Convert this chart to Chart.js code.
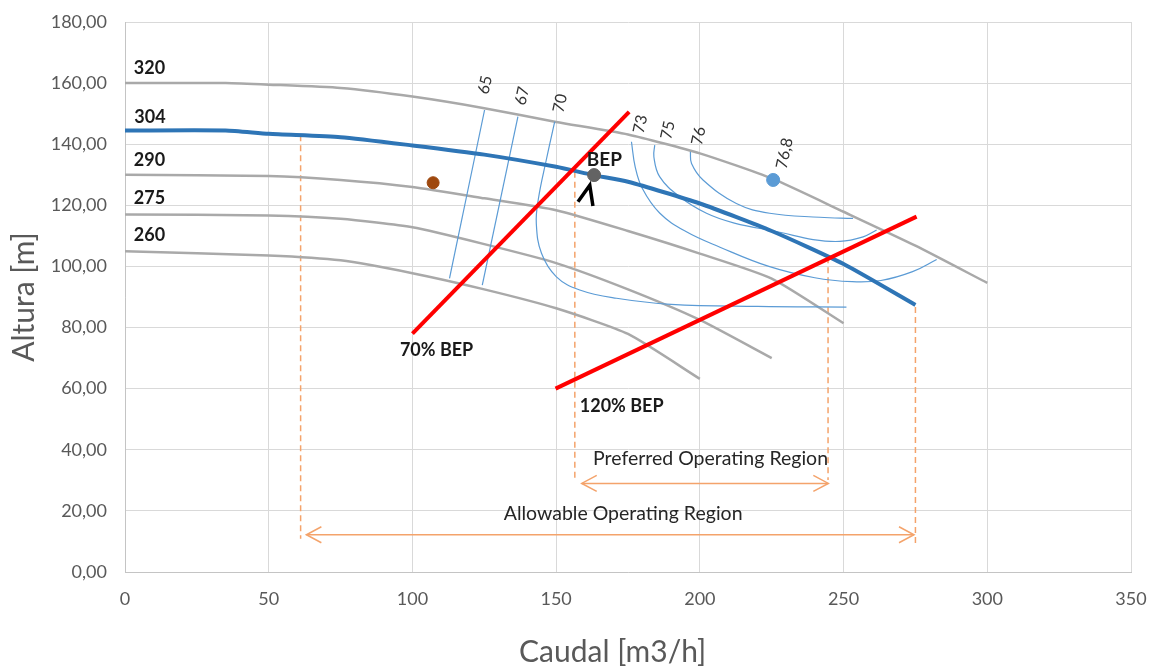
<!DOCTYPE html>
<html>
<head>
<meta charset="utf-8">
<title>Curvas da bomba</title>
<script src="https://cdn.jsdelivr.net/npm/chart.js@4.4.1/dist/chart.umd.min.js"></script>
<style>
  html, body { margin: 0; padding: 0; background: #fff; }
  #wrap { width: 1151px; height: 667px; }
</style>
</head>
<body>
<div id="wrap"><canvas id="graficoBomba"></canvas></div>
<script>
// curvas H-Q por diametro de rotor
const caudal320 = [0, 35, 50, 75, 100, 125, 150, 175, 200, 225, 250, 275, 300];
const altura320 = [160, 160, 159.5, 158.4, 155.6, 151.8, 147.3, 143.2, 137, 128.8, 117.9, 106.8, 94.6];

const caudal304 = [0, 35, 50, 75, 100, 125, 150, 163, 175, 200, 225, 250, 275];
const altura304 = [144.5, 144.5, 143.4, 142.3, 139.6, 136.6, 132.6, 129.9, 127.7, 120.6, 111.6, 100.8, 87.4];

const caudal290 = [0, 50, 75, 100, 125, 150, 175, 200, 225, 250];
const altura290 = [130, 129.6, 128.3, 126, 122.3, 118.4, 111.6, 104.2, 96, 81.4];

const caudal275 = [0, 50, 75, 100, 125, 150, 175, 200, 225];
const altura275 = [117, 116.7, 115.6, 112.8, 107.3, 101.1, 92.5, 82.5, 70];

const caudal260 = [0, 50, 75, 100, 125, 150, 175, 200];
const altura260 = [105, 103.6, 102, 97.8, 92.5, 86.3, 77.9, 63.2];

// curvas de rendimento
const caudalEf65 = [125.1, 112.9];
const alturaEf65 = [151.2, 96.1];
const caudalEf67 = [136.7, 124.3];
const alturaEf67 = [149, 93.9];
const caudalEf70 = [149.5, 146.6, 143.8, 143.1, 144.9, 150.1, 158.2, 171, 190, 220, 251];
const alturaEf70 = [147.4, 135, 122, 114, 104.3, 96.6, 92.3, 89.6, 87.6, 86.9, 86.7];
const caudalEf73 = [176.2, 177.5, 180, 186, 195, 207, 224, 240, 253, 263, 274, 282.4];
const alturaEf73 = [140.8, 132.6, 125.5, 117.5, 111.5, 106.3, 100, 96.3, 95, 95.4, 98.3, 102.3];
const caudalEf75 = [184.3, 184, 186, 193, 202.3, 212, 227.8, 239.4, 248.7, 256.8, 261.5];
const alturaEf75 = [139.7, 135.9, 129.4, 122.8, 117.4, 114.2, 111.2, 108.8, 108.2, 109.7, 111.9];
const caudalEf76 = [196.7, 197.1, 201.1, 212.7, 224.3, 241.7, 253.3];
const alturaEf76 = [137.5, 133.7, 128.3, 120.6, 117.4, 116.1, 115.7];

// linhas 70% e 120% do BEP
const caudal70BEP = [100, 175.4];
const altura70BEP = [78, 150.6];
const caudal120BEP = [149.8, 275.4];
const altura120BEP = [60, 116.3];

// pontos
const pontoBEP = [163.2, 129.9];
const pontoMarrom = [107.2, 127.4];
const ponto768 = [225.5, 128.3];
const caudalMarca = [157.6, 161.7, 162.8];
const alturaMarca = [121.2, 126.6, 119.8];

// limites das regioes de operacao
const caudalLimites = [61.1, 156.5, 244.6, 275];
const alturaLimitesTopo = [142.9, 131, 103, 86.7];
const alturaLimitesBase = [10.9, 30.1, 30.1, 9.4];
const regiaoPreferida = [158.9, 244.7, 29];
const regiaoPermitida = [63.1, 274.5, 12.2];

const ticksAltura = [0, 20, 40, 60, 80, 100, 120, 140, 160, 180];

const textosGrafico = [
  { texto: "320", x: 8.5, y: 164.9, tipo: "curva" },
  { texto: "304", x: 8.7, y: 149, tipo: "curva" },
  { texto: "290", x: 8.5, y: 134.8, tipo: "curva" },
  { texto: "275", x: 8.5, y: 122.2, tipo: "curva" },
  { texto: "260", x: 8.5, y: 110.1, tipo: "curva" },
  { texto: "70% BEP", x: 108.4, y: 72.6, tipo: "curva" },
  { texto: "120% BEP", x: 172.8, y: 54.3, tipo: "curva" },
  { texto: "BEP", x: 166.8, y: 134.8, tipo: "bep" },
  { texto: "65", x: 125.3, y: 159.4, tipo: "rend" },
  { texto: "67", x: 138.2, y: 155.8, tipo: "rend" },
  { texto: "70", x: 151.4, y: 153.4, tipo: "rend" },
  { texto: "73", x: 179.3, y: 146.6, tipo: "rend" },
  { texto: "75", x: 188.9, y: 144.6, tipo: "rend" },
  { texto: "76", x: 199.6, y: 142.7, tipo: "rend" },
  { texto: "76,8", x: 229.5, y: 137, tipo: "rend" },
  { texto: "Preferred Operating Region", x: 203.7, y: 37, tipo: "regiao" },
  { texto: "Allowable Operating Region", x: 173.3, y: 19, tipo: "regiao" }
];

function pontos(xs, ys) {
  return xs.map((x, i) => ({ x: x, y: ys[i] }));
}

function curva(xs, ys, cor, largura, tensao, ordem) {
  return {
    data: pontos(xs, ys),
    showLine: true,
    borderColor: cor,
    borderWidth: largura,
    pointRadius: 0,
    tension: tensao,
    order: ordem
  };
}

function ponto(p, cor, raio) {
  return {
    data: [{ x: p[0], y: p[1] }],
    backgroundColor: cor,
    borderColor: cor,
    pointRadius: raio,
    order: 0
  };
}

const corCinza = "#A9A9A9";
const corAzul = "#2E75B6";
const corRend = "#5B9BD5";
const corLaranja = "#F4A36B";

const datasets = [
  curva(caudal320, altura320, corCinza, 2.5, 0.2, 5),
  curva(caudal290, altura290, corCinza, 2.5, 0.2, 5),
  curva(caudal275, altura275, corCinza, 2.5, 0.2, 5),
  curva(caudal260, altura260, corCinza, 2.5, 0.2, 5),
  curva(caudalEf65, alturaEf65, corRend, 1.2, 0, 4),
  curva(caudalEf67, alturaEf67, corRend, 1.2, 0, 4),
  curva(caudalEf70, alturaEf70, corRend, 1.2, 0.4, 4),
  curva(caudalEf73, alturaEf73, corRend, 1.2, 0.4, 4),
  curva(caudalEf75, alturaEf75, corRend, 1.2, 0.4, 4),
  curva(caudalEf76, alturaEf76, corRend, 1.2, 0.4, 4),
  curva(caudal304, altura304, corAzul, 4, 0.2, 3),
  curva(caudal70BEP, altura70BEP, "#FF0000", 4, 0, 2),
  curva(caudal120BEP, altura120BEP, "#FF0000", 4, 0, 2),
  curva(caudalMarca, alturaMarca, "#000000", 3.5, 0, 1),
  ponto(pontoBEP, "#636363", 6.5),
  ponto(pontoMarrom, "#9E480E", 6),
  ponto(ponto768, corRend, 6.5)
];

caudalLimites.forEach((c, i) => {
  const d = curva([c, c], [alturaLimitesTopo[i], alturaLimitesBase[i]], corLaranja, 1.5, 0, 6);
  d.borderDash = [6, 4];
  datasets.push(d);
});
[regiaoPreferida, regiaoPermitida].forEach(r => {
  datasets.push(curva([r[0], r[1]], [r[2], r[2]], corLaranja, 1.5, 0, 6));
});

const pluginTextos = {
  id: "textos",
  afterDatasetsDraw(chart) {
    const ctx = chart.ctx;
    const sx = chart.scales.x;
    const sy = chart.scales.y;

    // pontas das setas
    ctx.save();
    ctx.strokeStyle = corLaranja;
    ctx.lineWidth = 1.5;
    [regiaoPreferida, regiaoPermitida].forEach(r => {
      const y = sy.getPixelForValue(r[2]);
      const x1 = sx.getPixelForValue(r[0]);
      const x2 = sx.getPixelForValue(r[1]);
      ctx.beginPath();
      ctx.moveTo(x1 + 15, y - 8);
      ctx.lineTo(x1, y);
      ctx.lineTo(x1 + 15, y + 8);
      ctx.moveTo(x2 - 15, y - 8);
      ctx.lineTo(x2, y);
      ctx.lineTo(x2 - 15, y + 8);
      ctx.stroke();
    });
    ctx.restore();

    textosGrafico.forEach(t => {
      const px = sx.getPixelForValue(t.x);
      const py = sy.getPixelForValue(t.y);
      ctx.save();
      ctx.textAlign = "center";
      ctx.textBaseline = "middle";
      ctx.translate(px, py);
      if (t.tipo === "curva") {
        ctx.font = "bold 18px Lato";
        ctx.fillStyle = "#1a1a1a";
      } else if (t.tipo === "bep") {
        ctx.font = "bold 19px Lato";
        ctx.fillStyle = "#1a1a1a";
      } else if (t.tipo === "rend") {
        ctx.font = "16px Lato";
        ctx.fillStyle = "#333333";
        ctx.rotate(-78 * Math.PI / 180);
      } else {
        ctx.font = "19.5px Lato";
        ctx.fillStyle = "#262626";
      }
      ctx.fillText(t.texto, 0, 0);
      ctx.restore();
    });
  }
};

new Chart(document.getElementById("graficoBomba"), {
  type: "scatter",
  data: { datasets: datasets },
  options: {
    responsive: true,
    maintainAspectRatio: false,
    animation: false,
    devicePixelRatio: 1,
    layout: { padding: { top: 22, right: 20, bottom: 0, left: 0 } },
    plugins: {
      legend: { display: false },
      tooltip: { enabled: false }
    },
    scales: {
      x: {
        type: "linear",
        min: 0,
        max: 350,
        afterFit: s => {
          s.height = 95;
          s.paddingLeft = 0;
          s.paddingRight = 0;
        },
        ticks: { stepSize: 50, color: "#595959", font: { family: "Lato", size: 18 }, padding: 16 },
        grid: { color: "#D9D9D9", drawTicks: false },
        border: { color: "#C4C4C4" },
        title: {
          display: true,
          text: "Caudal [m3/h]    ",
          color: "#595959",
          font: { family: "Lato", size: 30, lineHeight: 1 },
          padding: { top: 0, bottom: 0 }
        }
      },
      y: {
        type: "linear",
        min: 0,
        max: 180,
        afterFit: s => {
          s.width = 125;
          s.paddingTop = 0;
          s.paddingBottom = 0;
        },
        afterBuildTicks: s => { s.ticks = ticksAltura.map(v => ({ value: v })); },
        ticks: {
          color: "#595959",
          font: { family: "Lato", size: 18 },
          padding: 18,
          callback: v => v.toFixed(2).replace(".", ",")
        },
        grid: { color: "#D9D9D9", drawTicks: false },
        border: { color: "#C4C4C4" },
        title: {
          display: true,
          text: "Altura [m]",
          color: "#595959",
          font: { family: "Lato", size: 30, lineHeight: 1 },
          padding: { top: 9, bottom: 0 }
        }
      }
    }
  },
  plugins: [pluginTextos]
});
</script>
</body>
</html>
